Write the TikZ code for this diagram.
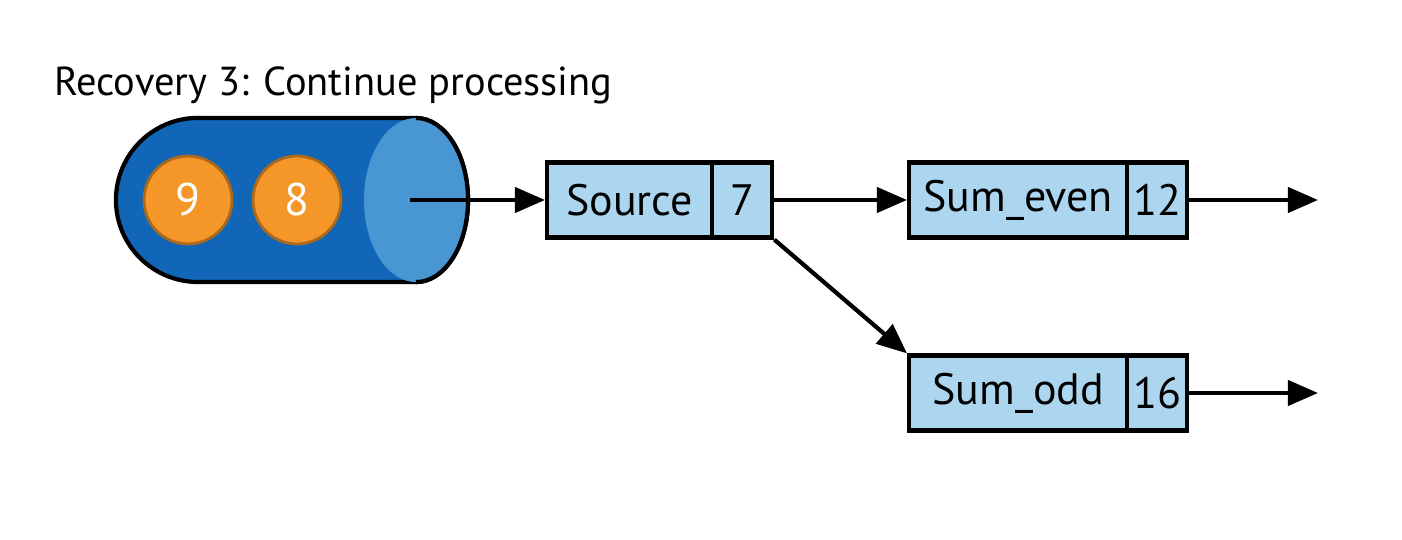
\documentclass[tikz,border=0pt]{standalone}
\usepackage{fontspec}
\setmainfont{PT Sans}
\usetikzlibrary{positioning,shapes.geometric,arrows.meta}
\definecolor{boxblue}{RGB}{172,214,240}
\definecolor{pipe}{RGB}{18,102,184}
\definecolor{pipeend}{RGB}{72,150,210}
\definecolor{ball}{RGB}{245,150,40}
\begin{document}
\begin{tikzpicture}
[x=0.01cm, y=0.01cm,
 op/.style={draw=black, very thick, fill=boxblue, minimum height=0.75cm, inner sep=0pt, font=\fontsize{12.5}{12.5}\selectfont},
 cnt/.style={op, minimum width=0.6cm},
 msg/.style={circle, draw=ball!70!black, thick, fill=ball, minimum size=0.88cm, inner sep=0pt, text=white, font=\fontsize{13}{13}\selectfont},
 flow/.style={-{Triangle[length=0.3cm,width=0.25cm]}, very thick}
 ]
\useasboundingbox (0,0) rectangle (1402,-540);
\node[anchor=west, font=\fontsize{11.5}{11.5}\selectfont] (title) at (42,-85) {Recovery 3: Continue processing};
% topic
\draw[very thick, fill=pipe] (198,-118) -- (416,-118) arc (90:-90:0.52cm and 0.82cm) -- (198,-282) arc (270:90:0.82cm) -- cycle;
\fill[pipeend] (416,-118) arc (90:-90:0.52cm and 0.82cm) arc (270:90:0.52cm and 0.82cm) -- cycle;
\draw[very thick] (416,-118) arc (90:-90:0.52cm and 0.82cm);
\node[msg] (m9) at (188,-200) {9};
\node[msg] (m8) at (297,-200) {8};
\coordinate (out) at (410,-200);
% operators
\node[op, minimum width=1.65cm, anchor=west] (src) at (545,-200) {Source};
\node[cnt, right=-1.2pt of src] (srcn) {7};
\node[op, minimum width=2.18cm, anchor=west] (even) at (907,-200) {Sum\_even};
\node[cnt, right=-1.2pt of even] (evenn) {12};
\node[op, minimum width=2.18cm, anchor=west] (odd) at (907,-393) {Sum\_odd};
\node[cnt, right=-1.2pt of odd] (oddn) {16};
\coordinate (evenout) at (1318,-200);
\coordinate (oddout) at (1318,-393);
\draw[flow] (out) -- (src);
\draw[flow] (srcn) -- (even);
\draw[flow] (srcn.south east) -- (odd.north west);
\draw[flow] (evenn) -- (evenout);
\draw[flow] (oddn) -- (oddout);
\end{tikzpicture}
\end{document}
